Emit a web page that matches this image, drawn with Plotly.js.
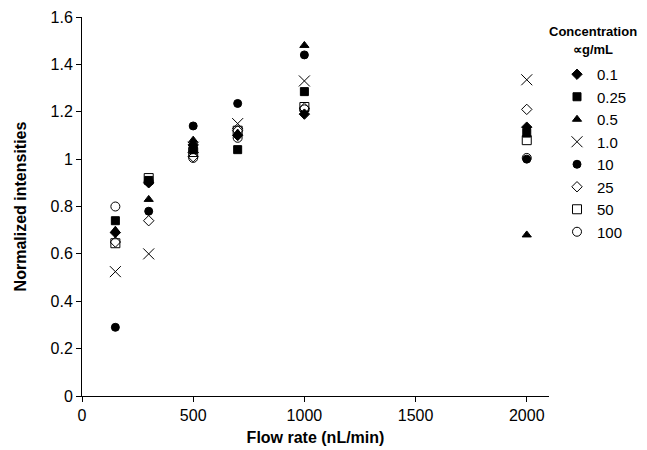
<!DOCTYPE html>
<html>
<head>
<meta charset="utf-8">
<script src="https://cdn.plot.ly/plotly-3.0.1.min.js"></script>
<style>html,body{margin:0;padding:0;background:#fff;}#chart{width:647px;height:450px;}</style>
</head>
<body>
<div id="chart"></div>
<script>
const flowRates = [150, 300, 500, 700, 1000, 2000];
const seriesNames = ["0.1", "0.25", "0.5", "1.0", "10", "25", "50", "100"];
const conc_0_1  = [0.69, 0.90, 1.06, 1.10, 1.19, 1.135];
const conc_0_25 = [0.74, 0.91, 1.04, 1.04, 1.285, 1.11];
const conc_0_5  = [0.70, 0.83, 1.08, 1.11, 1.48, 0.68];
const conc_1_0  = [0.525, 0.60, 1.05, 1.15, 1.33, 1.335];
const conc_10   = [0.29, 0.78, 1.14, 1.235, 1.44, 1.00];
const conc_25   = [0.65, 0.74, 1.01, 1.12, 1.215, 1.21];
const conc_50   = [0.645, 0.92, 1.03, 1.12, 1.22, 1.08];
const conc_100  = [0.80, 0.905, 1.005, 1.09, 1.21, 1.005];
const yTickVals = [0, 0.2, 0.4, 0.6, 0.8, 1.0, 1.2, 1.4, 1.6];
const yTickText = ["0", "0.2", "0.4", "0.6", "0.8", "1", "1.2", "1.4", "1.6"];
const xTickVals = [0, 500, 1000, 1500, 2000];
const legendTitle1 = "Concentration";
const legendTitle2 = "∝g/mL";

const allSeries = [conc_0_1, conc_0_25, conc_0_5, conc_1_0, conc_10, conc_25, conc_50, conc_100];
const symbols = ["diamond", "square", "triangle-up", "x-thin-open", "circle", "diamond-open", "square-open", "circle-open"];
const sizes = [8, 8, 8, 11, 8, 8, 9, 9];

const traces = allSeries.map((ys, i) => ({
  type: "scatter",
  mode: "markers",
  name: seriesNames[i],
  x: flowRates,
  y: ys,
  marker: {
    symbol: symbols[i],
    size: sizes[i],
    color: "#000",
    line: {color: "#000", width: 1}
  }
}));

const layout = {
  width: 647, height: 450,
  margin: {l: 82, r: 98, t: 17, b: 54, autoexpand: false},
  paper_bgcolor: "#fff", plot_bgcolor: "#fff",
  font: {family: "Liberation Sans, Arial, sans-serif", color: "#000", size: 15},
  showlegend: true,
  legend: {
    xref: "container", yref: "container",
    x: 557 / 647, xanchor: "left", y: 1 - 58 / 450, yanchor: "top",
    font: {size: 15, color: "#000"},
    itemwidth: 30, tracegroupgap: 0,
    bgcolor: "rgba(0,0,0,0)"
  },
  annotations: [
    {xref: "paper", yref: "paper", x: 1.095, y: 0.963, xanchor: "center", yanchor: "middle",
     text: "<b>" + legendTitle1 + "</b>", showarrow: false, font: {size: 13}},
    {xref: "paper", yref: "paper", x: 1.095, y: 0.913, xanchor: "center", yanchor: "middle",
     text: "<b>" + legendTitle2 + "</b>", showarrow: false, font: {size: 13}}
  ],
  xaxis: {
    range: [0, 2100],
    tickvals: xTickVals,
    ticktext: xTickVals.map(String),
    ticks: "outside", ticklen: 5, tickcolor: "#000",
    showline: true, linecolor: "#000", linewidth: 1,
    showgrid: false, zeroline: false,
    tickfont: {size: 16},
    title: {text: "<b>Flow rate (nL/min)</b>", font: {size: 16}, standoff: 8}
  },
  yaxis: {
    range: [0, 1.6],
    tickvals: yTickVals,
    ticktext: yTickText,
    ticks: "outside", ticklen: 5, tickcolor: "#000",
    showline: true, linecolor: "#000", linewidth: 1,
    showgrid: false, zeroline: false,
    tickfont: {size: 16},
    title: {text: "<b>Normalized intensities</b>", font: {size: 16}, standoff: 19}
  }
};

Plotly.newPlot("chart", traces, layout, {displayModeBar: false, staticPlot: true});
</script>
</body>
</html>
